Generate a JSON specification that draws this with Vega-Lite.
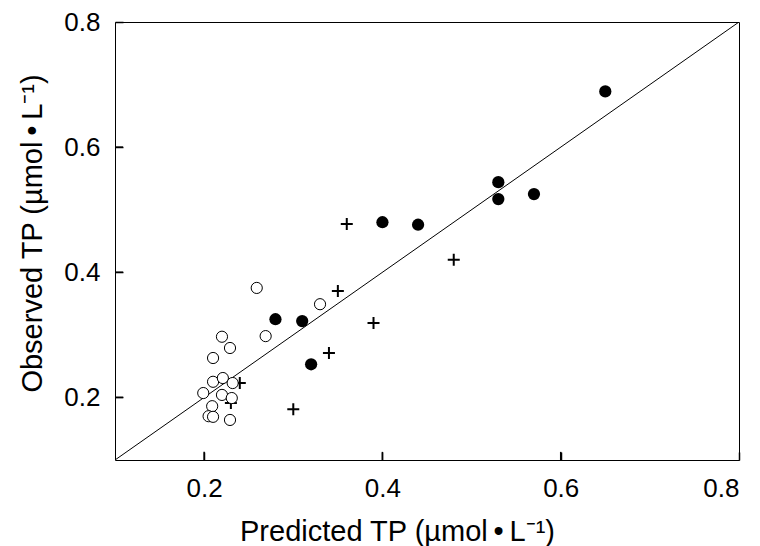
{
  "$schema": "https://vega.github.io/schema/vega-lite/v6.json",
  "autosize": {"type": "none"},
  "padding": {"left": 115, "top": 22, "right": 21, "bottom": 86},
  "width": 624,
  "height": 438,
  "background": "white",
  "config": {
    "view": {"stroke": "black", "strokeWidth": 1},
    "axis": {
      "domain": false,
      "grid": false,
      "ticks": true,
      "tickSize": -8,
      "tickColor": "black",
      "tickWidth": 1.5,
      "zindex": 1,
      "labelFont": "Liberation Sans",
      "labelFontSize": 26,
      "labelColor": "black",
      "labelPadding": 23,
      "titleFont": "Liberation Sans",
      "titleFontSize": 29,
      "titleFontWeight": "normal",
      "titleColor": "black"
    }
  },
  "datasets": {
    "pts": [
      {"x": 0.65, "y": 0.689, "g": "filled"},
      {"x": 0.53, "y": 0.544, "g": "filled"},
      {"x": 0.53, "y": 0.517, "g": "filled"},
      {"x": 0.57, "y": 0.525, "g": "filled"},
      {"x": 0.40, "y": 0.480, "g": "filled"},
      {"x": 0.44, "y": 0.476, "g": "filled"},
      {"x": 0.28, "y": 0.325, "g": "filled"},
      {"x": 0.31, "y": 0.322, "g": "filled"},
      {"x": 0.32, "y": 0.253, "g": "filled"},
      {"x": 0.36, "y": 0.477, "g": "cross"},
      {"x": 0.48, "y": 0.420, "g": "cross"},
      {"x": 0.35, "y": 0.370, "g": "cross"},
      {"x": 0.39, "y": 0.319, "g": "cross"},
      {"x": 0.34, "y": 0.271, "g": "cross"},
      {"x": 0.30, "y": 0.181, "g": "cross"},
      {"x": 0.24, "y": 0.223, "g": "cross"},
      {"x": 0.23, "y": 0.191, "g": "cross"},
      {"x": 0.259, "y": 0.375, "g": "open"},
      {"x": 0.33, "y": 0.349, "g": "open"},
      {"x": 0.269, "y": 0.298, "g": "open"},
      {"x": 0.22, "y": 0.297, "g": "open"},
      {"x": 0.229, "y": 0.279, "g": "open"},
      {"x": 0.21, "y": 0.263, "g": "open"},
      {"x": 0.21, "y": 0.225, "g": "open"},
      {"x": 0.221, "y": 0.231, "g": "open"},
      {"x": 0.232, "y": 0.223, "g": "open"},
      {"x": 0.199, "y": 0.207, "g": "open"},
      {"x": 0.22, "y": 0.204, "g": "open"},
      {"x": 0.231, "y": 0.199, "g": "open"},
      {"x": 0.209, "y": 0.186, "g": "open"},
      {"x": 0.205, "y": 0.170, "g": "open"},
      {"x": 0.21, "y": 0.169, "g": "open"},
      {"x": 0.229, "y": 0.164, "g": "open"}
    ],
    "diag": [
      {"x": 0.1, "y": 0.1},
      {"x": 0.8, "y": 0.8}
    ],
    "ticks": [
      {"v": 0.2},
      {"v": 0.4},
      {"v": 0.6}
    ]
  },
  "layer": [
    {
      "data": {"name": "diag"},
      "mark": {"type": "line", "color": "black", "strokeWidth": 1, "clip": true},
      "encoding": {
        "x": {"field": "x", "type": "quantitative", "scale": {"domain": [0.1, 0.8], "nice": false, "zero": false}},
        "y": {"field": "y", "type": "quantitative", "scale": {"domain": [0.1, 0.8], "nice": false, "zero": false}}
      }
    },
    {
      "data": {"name": "pts"},
      "transform": [{"filter": "datum.g === 'cross'"}],
      "mark": {"type": "point", "shape": "M-1,0H1M0,-1V1", "size": 144, "stroke": "black", "strokeWidth": 2, "filled": false, "opacity": 1},
      "encoding": {
        "x": {"field": "x", "type": "quantitative"},
        "y": {"field": "y", "type": "quantitative"}
      }
    },
    {
      "data": {"name": "pts"},
      "transform": [{"filter": "datum.g === 'open'"}],
      "mark": {"type": "point", "shape": "circle", "size": 125, "stroke": "black", "strokeWidth": 1, "fill": "white", "filled": false, "fillOpacity": 1, "opacity": 1},
      "encoding": {
        "x": {"field": "x", "type": "quantitative"},
        "y": {"field": "y", "type": "quantitative"}
      }
    },
    {
      "data": {"name": "pts"},
      "transform": [{"filter": "datum.g === 'filled'"}],
      "mark": {"type": "point", "shape": "circle", "size": 150, "color": "black", "filled": true, "opacity": 1},
      "encoding": {
        "x": {
          "field": "x", "type": "quantitative",
          "axis": {"values": [0.2, 0.4, 0.6, 0.8], "format": ".1f", "title": "Predicted TP (µmol\u2009•\u2009L⁻¹)", "titleX": 282, "titleY": 80, "titleBaseline": "alphabetic", "titleAlign": "center"}
        },
        "y": {
          "field": "y", "type": "quantitative",
          "axis": {"values": [0.2, 0.4, 0.6, 0.8], "format": ".1f", "title": "Observed TP (µmol\u2009•\u2009L⁻¹)", "titleX": -74, "titleY": 211, "titleBaseline": "alphabetic", "titleAlign": "center", "titleAngle": -90}
        }
      }
    },
    {
      "data": {"name": "ticks"},
      "mark": {"type": "rule", "color": "black", "strokeWidth": 1.5},
      "encoding": {
        "x": {"field": "v", "type": "quantitative"},
        "y": {"datum": 0.1, "type": "quantitative"},
        "y2": {"datum": 0.113}
      }
    },
    {
      "data": {"name": "ticks"},
      "mark": {"type": "rule", "color": "black", "strokeWidth": 1.5},
      "encoding": {
        "y": {"field": "v", "type": "quantitative"},
        "x": {"datum": 0.1, "type": "quantitative"},
        "x2": {"datum": 0.109}
      }
    }
  ]
}
